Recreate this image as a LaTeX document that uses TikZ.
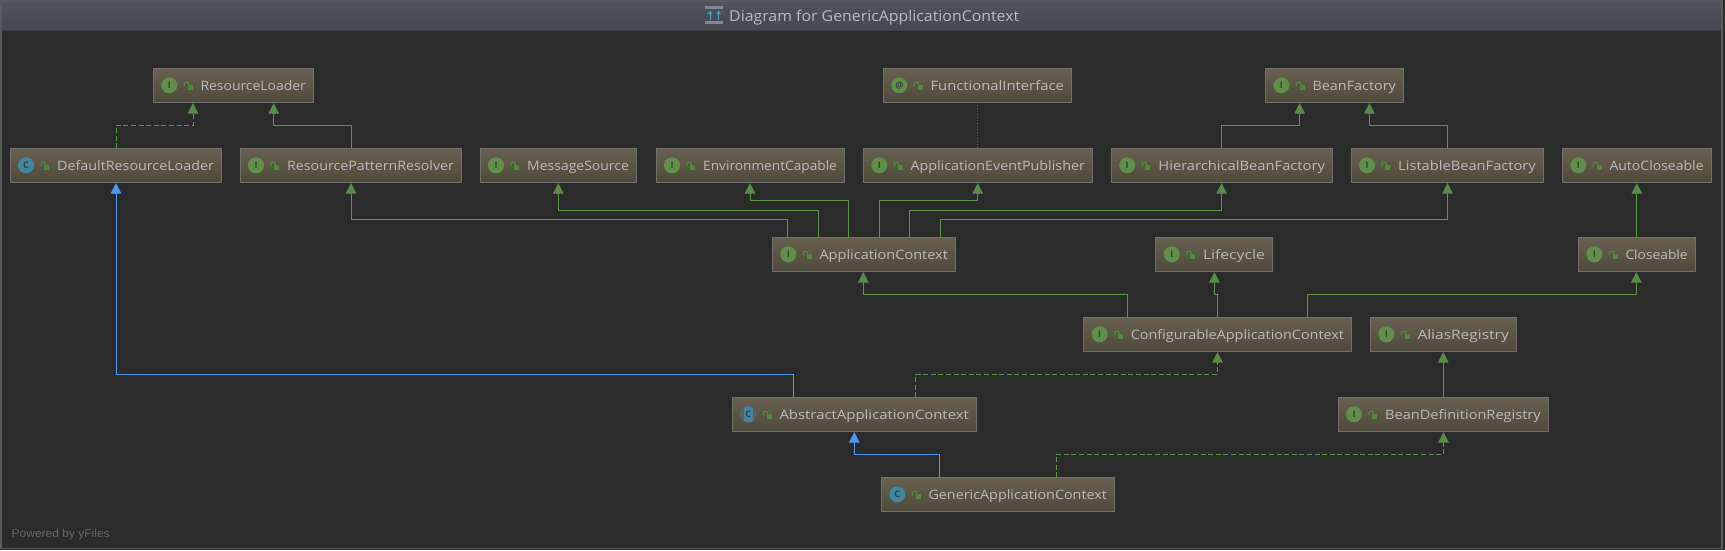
\documentclass[tikz,border=0pt]{standalone}
\usepackage{fontspec}
\usepackage{graphicx}
\setmainfont{Open Sans}
\newfontfamily\yfont{Liberation Sans}
\usetikzlibrary{arrows.meta,calc}
\definecolor{bgdark}{HTML}{2B2B2B}
\definecolor{edgegreen}{HTML}{5C9448}
\definecolor{headgreen}{HTML}{588C48}
\definecolor{edgeblue}{HTML}{4F98EE}
\definecolor{edgeolive}{HTML}{6C6C34}
\definecolor{boxtop}{HTML}{69604F}
\definecolor{boxbot}{HTML}{4E4A3C}
\definecolor{boxline}{HTML}{707070}
\definecolor{labeltxt}{HTML}{B7BBC0}
\definecolor{ifacegreen}{HTML}{5F8F48}
\definecolor{classteal}{HTML}{3F87A3}
\definecolor{icondark}{HTML}{35403A}
\definecolor{lockgreen}{HTML}{4F8A3C}
\definecolor{bartop}{HTML}{50535A}
\definecolor{barbot}{HTML}{45484C}
\definecolor{barline}{HTML}{3C3F41}
\definecolor{framegray}{HTML}{5A5A5A}
\definecolor{titletxt}{HTML}{B4BCC4}
\definecolor{titlebar}{HTML}{7C8A94}
\definecolor{titlearrow}{HTML}{3FA6C8}
\definecolor{yfilestxt}{HTML}{666666}
\tikzset{
  umlcls/.style={draw=boxline,line width=1pt,top color=boxtop,bottom color=boxbot,minimum height=34pt,inner sep=0pt,outer sep=0pt},
  umlname/.style={text=labeltxt,font=\fontsize{13}{15}\selectfont,inner sep=0pt,anchor=base west},
  iconmark/.style={circle,minimum size=16pt,inner sep=0pt,text=icondark,font=\fontsize{9}{9}\selectfont\bfseries},
  realiz/.style={draw=edgegreen,line width=1pt,dash pattern=on 5pt off 2.6pt,-{Triangle[width=10.5pt,length=10.5pt,fill=headgreen,color=headgreen]}},
  inherit/.style={draw=edgegreen,line width=1pt,-{Triangle[width=10.5pt,length=10.5pt,fill=headgreen,color=headgreen]}},
  extend/.style={draw=edgeblue,line width=1pt,-{Triangle[width=10.5pt,length=10.5pt,fill=edgeblue]}},
  annot/.style={draw=edgeolive,line width=1pt,dotted}
}
% name, x1, x2, y1, icon letter, icon colour, text
\newcommand{\umlbox}[7]{%
  \pgfmathsetmacro\bw{#3-#2}%
  \pgfmathsetmacro\bc{(#2+#3)/2}%
  \pgfmathsetmacro\tw{#3-#2-55}%
  \pgfmathsetmacro\cy{#4+17}%
  \node[umlcls,minimum width=\bw pt] (#1) at (\bc,\cy) {};
  \node[iconmark,fill=#6] (#1-i) at ([xshift=16pt]#1.west) {#5};
  \draw[lockgreen,line width=1.2pt] ([xshift=31pt,yshift=-1pt]#1.west) -- ++(0,-2) arc[start angle=180,end angle=0,radius=2.2pt] -- ++(0,2);
  \fill[lockgreen] ([xshift=34.2pt,yshift=0.3pt]#1.west) rectangle ++(5,5);
  \node[umlname] (#1-t) at ([xshift=47pt,yshift=-5.2pt]#1.west) {\resizebox{\tw pt}{\height}{#7}};
}
% style, from, dx from, rise, to, dx to
\newcommand{\linkit}[6]{%
  \draw[#1] ([xshift=#3pt]#2.north west) -- ++(0,-#4) -| ([xshift=#6pt,yshift=-0.8pt]#5.south west);
}
\begin{document}
\begin{tikzpicture}[x=1pt,y=-1pt]
\useasboundingbox (0,0) rectangle (1725,550);
\fill[bgdark] (0,0) rectangle (1725,550);
% title bar
\node[top color=bartop,bottom color=barbot,minimum width=1720pt,minimum height=29.5pt,inner sep=0pt,outer sep=0pt] (bar) at (861,15.5) {};
\draw[barline,line width=1pt] (bar.south west) -- (bar.south east);
\draw[framegray,line width=1.5pt] (0.75,0.75) rectangle (1722,548.5);
\node[text=titletxt,font=\fontsize{15}{17}\selectfont,inner sep=0pt,anchor=base west] (title) at (729,21) {\resizebox{290pt}{\height}{Diagram for GenericApplicationContext}};
% title icon
\fill[titlebar] (705,6) rectangle (723,9);
\fill[titlebar] (705,21) rectangle (723,24);
\draw[titlearrow,line width=1pt,-{Triangle[width=4.5pt,length=3.5pt]}] (710,20) -- (710,10.5);
\draw[titlearrow,line width=1pt,-{Triangle[width=4.5pt,length=3.5pt]}] (718.5,20) -- (718.5,10.5);
% boxes
\umlbox{rl}{153.3}{313.7}{68.3}{I}{ifacegreen}{ResourceLoader}
\umlbox{fi}{883.3}{1071.7}{68.3}{@}{ifacegreen}{FunctionalInterface}
\umlbox{bf}{1265.4}{1403.7}{68.3}{I}{ifacegreen}{BeanFactory}
\umlbox{drl}{10}{221.7}{148.3}{C}{classteal}{DefaultResourceLoader}
\umlbox{rpr}{240}{461.7}{148.3}{I}{ifacegreen}{ResourcePatternResolver}
\umlbox{ms}{480}{636.7}{148.3}{I}{ifacegreen}{MessageSource}
\umlbox{ec}{656}{844.7}{148.3}{I}{ifacegreen}{EnvironmentCapable}
\umlbox{aep}{863.3}{1092.7}{148.3}{I}{ifacegreen}{ApplicationEventPublisher}
\umlbox{hbf}{1111.2}{1332.8}{148.3}{I}{ifacegreen}{HierarchicalBeanFactory}
\umlbox{lbf}{1351}{1543.6}{148.3}{I}{ifacegreen}{ListableBeanFactory}
\umlbox{acl}{1562.3}{1711.4}{148.3}{I}{ifacegreen}{AutoCloseable}
\umlbox{ac}{772.3}{955.7}{237.3}{I}{ifacegreen}{ApplicationContext}
\umlbox{lc}{1155.8}{1272.6}{237.3}{I}{ifacegreen}{Lifecycle}
\umlbox{cl}{1578.3}{1695.5}{237.3}{I}{ifacegreen}{Closeable}
\umlbox{cac}{1083.6}{1351.8}{317.3}{I}{ifacegreen}{ConfigurableApplicationContext}
\umlbox{ar}{1370.3}{1516.6}{317.3}{I}{ifacegreen}{AliasRegistry}
\umlbox{aac}{732.3}{976.7}{397.3}{C}{classteal}{AbstractApplicationContext}
\umlbox{bdr}{1338}{1548.5}{397.3}{I}{ifacegreen}{BeanDefinitionRegistry}
\umlbox{gac}{881.3}{1114.7}{477.3}{C}{classteal}{GenericApplicationContext}
% abstract class icon sides
\begin{scope}
  \clip ([xshift=8pt]aac.west) ++(-0,-8) rectangle ++(3.5,16);
  \fill[gray!75!black] (aac-i) circle[radius=8pt];
\end{scope}
\begin{scope}
  \clip ([xshift=24pt]aac.west) ++(0,-8) rectangle ++(-3.5,16);
  \fill[gray!75!black] (aac-i) circle[radius=8pt];
\end{scope}
% connectors
\linkit{realiz}{drl}{106}{23}{rl}{39.7}
\linkit{inherit}{rpr}{111.7}{23}{rl}{120.4}
\linkit{inherit}{ac}{15.4}{17.7}{rpr}{111}
\linkit{inherit}{ac}{46}{27}{ms}{78.3}
\linkit{inherit}{ac}{76}{36.8}{ec}{94}
\linkit{inherit}{ac}{107}{36.8}{aep}{114.4}
\linkit{inherit}{ac}{137}{27}{hbf}{110.4}
\linkit{inherit}{ac}{168}{17.7}{lbf}{96.5}
\draw[annot] (aep.north -| fi.south) -- (fi.south);
\linkit{inherit}{hbf}{110.4}{23}{bf}{34.3}
\linkit{inherit}{lbf}{96.5}{23}{bf}{104}
\draw[inherit] (cl.north -| acl.south) -- ([yshift=-0.8pt]acl.south);
\linkit{inherit}{cac}{43.9}{23}{ac}{91}
\linkit{inherit}{cac}{133.9}{23}{lc}{58.6}
\linkit{inherit}{cac}{223.8}{23}{cl}{58}
\linkit{realiz}{aac}{183.4}{23}{cac}{133.9}
\linkit{extend}{aac}{61.4}{23}{drl}{106}
\linkit{extend}{gac}{58}{23}{aac}{122}
\linkit{realiz}{gac}{175}{23}{bdr}{105.5}
\draw[inherit] (bdr.north) -- ([yshift=-0.8pt]ar.south -| bdr.north);
% footer
\node[text=yfilestxt,font=\yfont\fontsize{11.5}{13}\selectfont,inner sep=0pt,anchor=base west] (yf) at (11.5,537) {\resizebox{98pt}{\height}{Powered by yFiles}};
\end{tikzpicture}
\end{document}
